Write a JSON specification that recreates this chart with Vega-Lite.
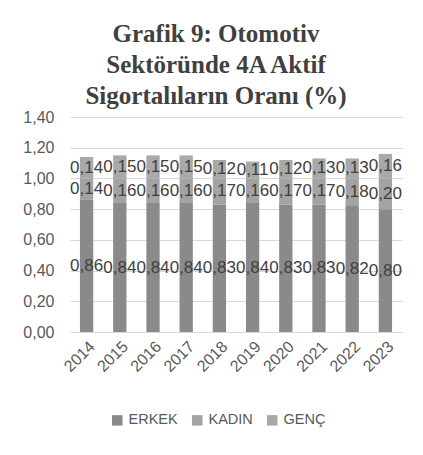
{
  "$schema": "https://vega.github.io/schema/vega-lite/v6.json",
  "width": 332,
  "height": 215,
  "autosize": {"type": "none"},
  "padding": {"left": 70, "top": 117, "right": 21, "bottom": 123},
  "background": "white",
  "config": {
    "locale": {"number": {"decimal": ",", "thousands": ".", "grouping": [3], "currency": ["", " TL"]}},
    "view": {"stroke": null},
    "font": "Liberation Sans",
    "axisY": {
      "title": null,
      "values": [0, 0.2, 0.4, 0.6, 0.8, 1.0, 1.2, 1.4],
      "format": ".2f",
      "labelFontSize": 16,
      "labelColor": "#595959",
      "labelFont": "Liberation Sans",
      "labelOverlap": false,
      "labelFlush": false,
      "ticks": false,
      "domain": false,
      "gridColor": "#d9d9d9",
      "labelPadding": 16
    }
  },
  "title": {
    "text": ["Grafik 9: Otomotiv", "Sektöründe 4A Aktif", "Sigortalıların Oranı (%)"],
    "font": "Liberation Serif",
    "fontSize": 25,
    "fontWeight": "bold",
    "color": "#404040",
    "anchor": "middle",
    "dx": -20,
    "lineHeight": 31,
    "offset": 0
  },
  "data": {
    "values": [
      {"year": "2014", "group": "ERKEK", "o": 1, "value": 0.86},
      {"year": "2015", "group": "ERKEK", "o": 1, "value": 0.84},
      {"year": "2016", "group": "ERKEK", "o": 1, "value": 0.84},
      {"year": "2017", "group": "ERKEK", "o": 1, "value": 0.84},
      {"year": "2018", "group": "ERKEK", "o": 1, "value": 0.83},
      {"year": "2019", "group": "ERKEK", "o": 1, "value": 0.84},
      {"year": "2020", "group": "ERKEK", "o": 1, "value": 0.83},
      {"year": "2021", "group": "ERKEK", "o": 1, "value": 0.83},
      {"year": "2022", "group": "ERKEK", "o": 1, "value": 0.82},
      {"year": "2023", "group": "ERKEK", "o": 1, "value": 0.80},
      {"year": "2014", "group": "KADIN", "o": 2, "value": 0.14},
      {"year": "2015", "group": "KADIN", "o": 2, "value": 0.16},
      {"year": "2016", "group": "KADIN", "o": 2, "value": 0.16},
      {"year": "2017", "group": "KADIN", "o": 2, "value": 0.16},
      {"year": "2018", "group": "KADIN", "o": 2, "value": 0.17},
      {"year": "2019", "group": "KADIN", "o": 2, "value": 0.16},
      {"year": "2020", "group": "KADIN", "o": 2, "value": 0.17},
      {"year": "2021", "group": "KADIN", "o": 2, "value": 0.17},
      {"year": "2022", "group": "KADIN", "o": 2, "value": 0.18},
      {"year": "2023", "group": "KADIN", "o": 2, "value": 0.20},
      {"year": "2014", "group": "GENÇ", "o": 3, "value": 0.14},
      {"year": "2015", "group": "GENÇ", "o": 3, "value": 0.15},
      {"year": "2016", "group": "GENÇ", "o": 3, "value": 0.15},
      {"year": "2017", "group": "GENÇ", "o": 3, "value": 0.15},
      {"year": "2018", "group": "GENÇ", "o": 3, "value": 0.12},
      {"year": "2019", "group": "GENÇ", "o": 3, "value": 0.11},
      {"year": "2020", "group": "GENÇ", "o": 3, "value": 0.12},
      {"year": "2021", "group": "GENÇ", "o": 3, "value": 0.13},
      {"year": "2022", "group": "GENÇ", "o": 3, "value": 0.13},
      {"year": "2023", "group": "GENÇ", "o": 3, "value": 0.16}
    ]
  },
  "transform": [
    {"stack": "value", "groupby": ["year"], "sort": [{"field": "o", "order": "ascending"}], "as": ["v0", "v1"]},
    {"calculate": "(datum.v0 + datum.v1) / 2", "as": "vmid"}
  ],
  "encoding": {
    "x": {
      "field": "year",
      "type": "ordinal",
      "scale": {"paddingInner": 0.6, "paddingOuter": 0.3},
      "axis": {
        "title": null,
        "labelAngle": -45,
        "labelFontSize": 16,
        "labelColor": "#595959",
        "labelFont": "Liberation Sans",
        "ticks": false,
        "domainColor": "#d9d9d9",
        "labelPadding": 6
      }
    }
  },
  "layer": [
    {
      "mark": {"type": "bar"},
      "encoding": {
        "y": {
          "field": "v0",
          "type": "quantitative",
          "title": null,
          "scale": {"domain": [0, 1.4], "nice": false, "zero": true}
        },
        "y2": {"field": "v1"},
        "color": {
          "field": "group",
          "type": "nominal",
          "sort": ["ERKEK", "KADIN", "GENÇ"],
          "scale": {"domain": ["ERKEK", "KADIN", "GENÇ"], "range": ["#8a8a8a", "#a3a3a3", "#a9a9a9"]},
          "legend": {
            "title": null,
            "orient": "none",
            "direction": "horizontal",
            "legendX": 40,
            "legendY": 296,
            "symbolType": "square",
            "symbolSize": 110,
            "symbolStrokeWidth": 0,
            "labelFontSize": 14.5,
            "labelColor": "#595959",
            "labelFont": "Liberation Sans",
            "columnPadding": 12
          }
        }
      }
    },
    {
      "mark": {"type": "text", "fontSize": 17, "color": "#404040", "font": "Liberation Sans"},
      "encoding": {
        "y": {"field": "vmid", "type": "quantitative", "title": null},
        "text": {"field": "value", "type": "quantitative", "format": ".2f"}
      }
    }
  ]
}
